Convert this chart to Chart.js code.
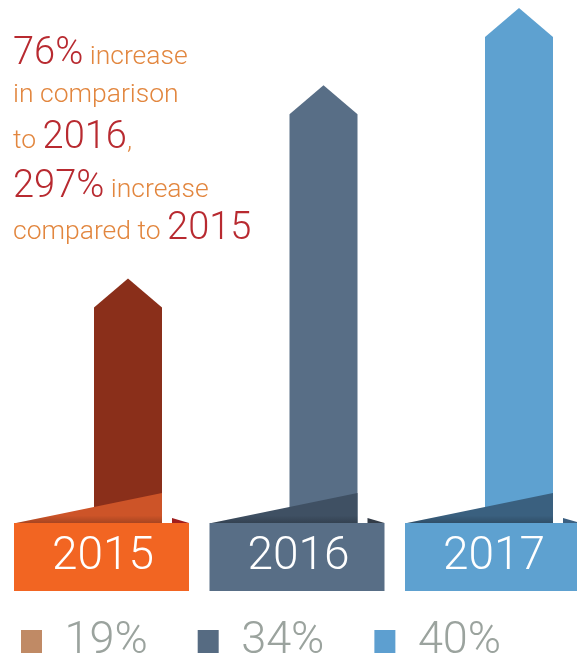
<!DOCTYPE html>
<html>
<head>
<meta charset="utf-8">
<script src="https://cdn.jsdelivr.net/npm/chart.js@4"></script>
<style>
  html, body { margin: 0; padding: 0; background: #fff; }
  #wrap { width: 577px; height: 655px; }
</style>
</head>
<body>
<div id="wrap"><canvas id="myChart"></canvas></div>
<script>
const years = ["2015", "2016", "2017"];
const shares = [19, 34, 40];
const shareLabels = ["19%", "34%", "40%"];

const barColors = ["#8a2f1a", "#586e86", "#5ea1d0"];
const boxColors = ["#f26522", "#586e86", "#5ea1d0"];
const foldColors = ["#cd5428", "#3f5063", "#3a607f"];
const tailColors = ["#a01f1e", "#333c47", "#3b5f80"];
const legendColors = ["#c08a65", "#566b82", "#5d9fd0"];

// headline, each line is a list of [text, isBig]
const headline = [
  [["76%", true], [" increase", false]],
  [["in comparison", false]],
  [["to ", false], ["2016", true], [",", false]],
  [["297%", true], [" increase", false]],
  [["compared to ", false], ["2015", true]],
];

const ctx = document.querySelector("#myChart");

const arrowPlugin = {
  id: "arrows",
  beforeDraw(chart) {
    // coloured year boxes, drawn before the axis labels
    const c = chart.ctx;
    const xScale = chart.scales.x;
    const base = chart.scales.y.getPixelForValue(0);
    years.forEach((yr, i) => {
      const cx = xScale.getPixelForValue(i);
      c.fillStyle = boxColors[i];
      c.fillRect(cx - 114, base, 175, 68);
    });
  },
  afterDatasetsDraw(chart) {
    const c = chart.ctx;
    const meta = chart.getDatasetMeta(0);
    meta.data.forEach((bar, i) => {
      const { x, y, width, base } = bar.getProps(["x", "y", "width", "base"], true);
      const l = x - width / 2;
      const r = x + width / 2;
      const head = 29;
      c.save();
      // arrow body
      c.fillStyle = barColors[i];
      c.beginPath();
      c.moveTo(l, base);
      c.lineTo(l, y + head);
      c.lineTo(x, y);
      c.lineTo(r, y + head);
      c.lineTo(r, base);
      c.closePath();
      c.fill();
      // folded ribbon
      const g = c.createLinearGradient(0, base - 30, 0, base);
      g.addColorStop(0, "rgba(0,0,0,0)");
      g.addColorStop(0.75, "rgba(0,0,0,0)");
      g.addColorStop(1, "rgba(0,0,0,0.18)");
      c.fillStyle = foldColors[i];
      c.beginPath();
      c.moveTo(x - 112, base);
      c.lineTo(r, base - 30);
      c.lineTo(r, base);
      c.closePath();
      c.fill();
      c.fillStyle = g;
      c.fill();
      // small tail on the right
      c.fillStyle = tailColors[i];
      c.beginPath();
      c.moveTo(r + 10, base - 5);
      c.lineTo(x + 61, base);
      c.lineTo(r + 10, base);
      c.closePath();
      c.fill();
      c.restore();
    });
  },
  afterDraw(chart) {
    const c = chart.ctx;
    const baselines = [64, 102, 148, 197, 239];
    c.save();
    c.textBaseline = "alphabetic";
    c.textAlign = "left";
    headline.forEach((line, li) => {
      let x = 13;
      line.forEach(([text, big]) => {
        c.font = big ? "300 38px Roboto" : "300 26.5px Roboto";
        c.fillStyle = big ? "#b82a30" : "#e2863e";
        c.fillText(text, x, baselines[li]);
        x += c.measureText(text).width;
      });
    });
    c.restore();
  },
};

const chart = new Chart(ctx, {
  type: "bar",
  data: {
    labels: years,
    datasets: [
      {
        label: "Share",
        data: shares,
        backgroundColor: "rgba(0,0,0,0)",
        barThickness: 68,
        clip: false,
      },
    ],
  },
  plugins: [arrowPlugin],
  options: {
    responsive: true,
    maintainAspectRatio: false,
    animation: false,
    layout: {
      padding: { top: 8, right: 0, bottom: -19, left: -29 },
    },
    plugins: {
      tooltip: { enabled: false },
      legend: {
        position: "bottom",
        align: "start",
        labels: {
          color: "#9ba39e",
          font: { family: "Roboto", size: 45, weight: 300 },
          boxWidth: 21,
          boxHeight: 23,
          padding: 50,
          generateLabels: () =>
            shareLabels.map((t, i) => ({
              text: t,
              fillStyle: legendColors[i],
              strokeStyle: legendColors[i],
              fontColor: "#9ba39e",
              lineWidth: 0,
              hidden: false,
              index: i,
            })),
        },
      },
    },
    scales: {
      x: {
        type: "category",
        offset: false,
        grid: { display: false, drawTicks: false },
        border: { display: false },
        ticks: {
          color: "#ffffff",
          font: { family: "Roboto", size: 46, weight: 300 },
          labelOffset: -25,
          padding: 6.5,
          maxRotation: 0,
          autoSkip: false,
        },
        afterFit: (s) => {
          s.height = 46;
        },
      },
      y: {
        min: 0,
        max: 40,
        grid: { display: false },
        border: { display: false },
        ticks: { display: false },
        afterFit: (s) => {
          s.width = 157;
        },
      },
      y2: {
        position: "right",
        display: true,
        grid: { display: false },
        border: { display: false },
        ticks: { display: false },
        afterFit: (s) => {
          s.width = 58;
        },
      },
    },
  },
});
</script>
</body>
</html>
